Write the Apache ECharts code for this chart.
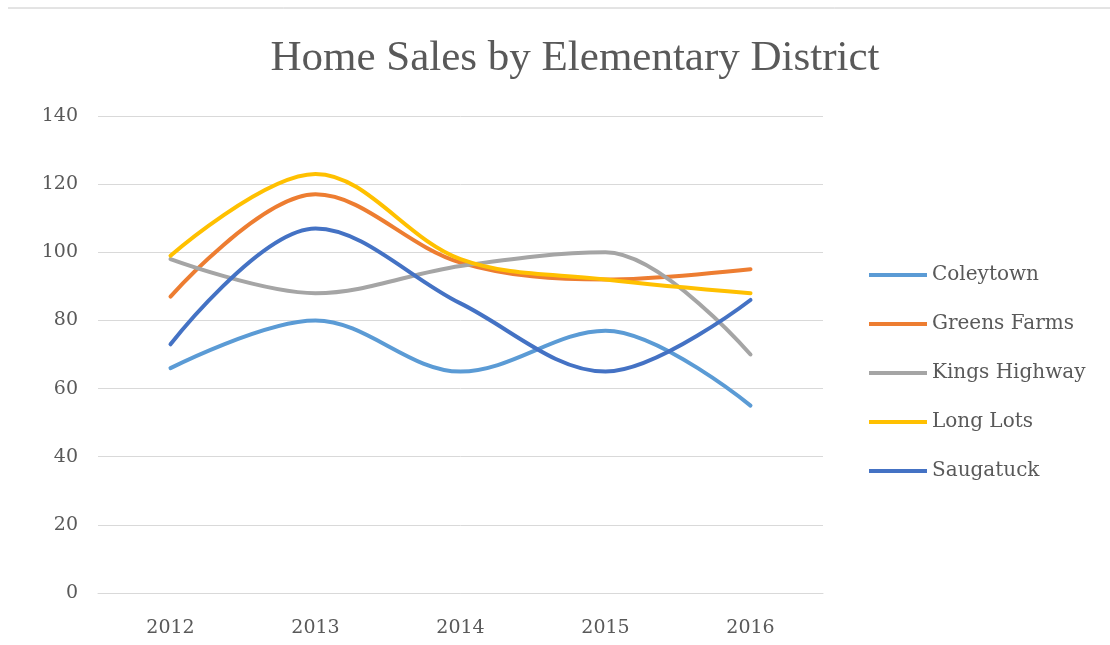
<!DOCTYPE html>
<html>
<head>
    <meta charset="utf-8">
    <title>Home Sales by Elementary District</title>
    <script src="https://cdn.jsdelivr.net/npm/echarts@6/dist/echarts.min.js"></script>
    <style>
        html, body { margin: 0; padding: 0; background: #fff; }
        #main { width: 1110px; height: 645px; }
    </style>
</head>
<body>
<div id="main"></div>
<script>
    var years = ['2012', '2013', '2014', '2015', '2016'];
    var coleytown = [66, 80, 65, 77, 55];
    var greensFarms = [87, 117, 97, 92, 95];
    var kingsHighway = [98, 88, 96, 100, 70];
    var longLots = [99, 123, 98, 92, 88];
    var saugatuck = [73, 107, 85, 65, 86];

    var names = ['Coleytown', 'Greens Farms', 'Kings Highway', 'Long Lots', 'Saugatuck'];
    var colors = ['#5b9bd5', '#ed7d31', '#a5a5a5', '#ffc000', '#4472c4'];
    var values = [coleytown, greensFarms, kingsHighway, longLots, saugatuck];

    var titleFont = 'Liberation Serif';
    var font = 'DejaVu Serif';
    var series = [];
    for (var i = 0; i < names.length; i++) {
        series.push({
            name: names[i],
            type: 'line',
            smooth: 0.35,
            symbol: 'none',
            data: values[i],
            lineStyle: { width: 4, color: colors[i], cap: 'round' },
            itemStyle: { color: colors[i] }
        });
    }

    var myChart = echarts.init(document.getElementById('main'));
    var option = {
        backgroundColor: '#fff',
        animation: false,
        color: colors,
        title: {
            text: 'Home Sales by Elementary District',
            left: 570,
            textAlign: 'center',
            top: 32,
            textStyle: { fontFamily: titleFont, fontSize: 43, fontWeight: 'normal', color: '#595959' }
        },
        legend: {
            orient: 'vertical',
            left: 864,
            top: 260,
            itemWidth: 58,
            itemHeight: 4,
            itemGap: 29,
            icon: 'rect',
            data: names,
            textStyle: { fontFamily: font, fontSize: 20, color: '#595959' }
        },
        grid: { left: 98, right: 287, top: 116, bottom: 52 },
        xAxis: {
            type: 'category',
            data: years,
            boundaryGap: true,
            axisLine: { lineStyle: { color: '#d9d9d9', width: 1 } },
            axisTick: { show: false },
            axisLabel: { margin: 26, fontFamily: font, fontSize: 19, color: '#595959' }
        },
        yAxis: {
            type: 'value',
            min: 0,
            max: 140,
            interval: 20,
            axisLine: { show: false },
            axisTick: { show: false },
            splitLine: { lineStyle: { color: '#d9d9d9', width: 1 } },
            axisLabel: { margin: 20, fontFamily: font, fontSize: 19, color: '#595959' }
        },
        graphic: [{
            type: 'line',
            shape: { x1: 8, y1: 8, x2: 1110, y2: 8 },
            style: { stroke: '#c8c8c8', lineWidth: 1 }
        }],
        series: series
    };
    myChart.setOption(option);
</script>
</body>
</html>
